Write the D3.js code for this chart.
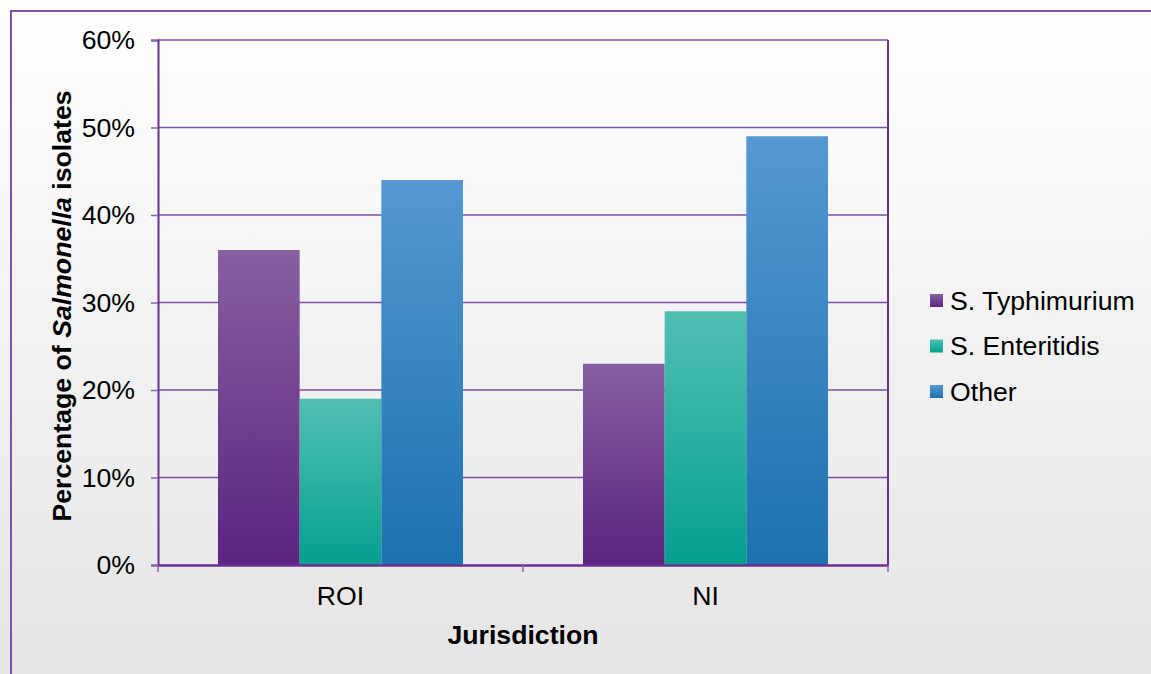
<!DOCTYPE html>
<html>
<head>
<meta charset="utf-8">
<script src="https://cdn.jsdelivr.net/npm/d3@7"></script>
<style>
  html, body { margin: 0; padding: 0; background: #fff; }
  svg { display: block; }
  text { font-family: Arial, "Liberation Sans", sans-serif; fill: #000; }
</style>
</head>
<body>
<svg id="chart" width="1151" height="674"></svg>
<script>
// Data
const jurisdictions = ["ROI", "NI"];
const seriesNames = ["S. Typhimurium", "S. Enteritidis", "Other"];
const typhimurium = [36, 23];
const enteritidis = [19, 29];
const other = [44, 49];
const yTicks = [0, 10, 20, 30, 40, 50, 60];

const seriesValues = [typhimurium, enteritidis, other];
const seriesColors = [
  { top: "#8660a1", bottom: "#5c2480" },
  { top: "#50bfb2", bottom: "#05a08f" },
  { top: "#5598d1", bottom: "#1c72b0" }
];

const W = 1151, H = 674;
const plot = { left: 158, top: 40, right: 888, bottom: 565 };
const FONT = "Arial, 'Liberation Sans', sans-serif";
const FS = 26.67;

const svg = d3.select("#chart");
const defs = svg.append("defs");

// Background gradient
const bg = defs.append("linearGradient").attr("id", "bg")
  .attr("x1", 0).attr("y1", 0).attr("x2", 0).attr("y2", 1);
bg.append("stop").attr("offset", "0%").attr("stop-color", "#ffffff");
bg.append("stop").attr("offset", "100%").attr("stop-color", "#e5e5e5");

seriesColors.forEach((c, i) => {
  const g = defs.append("linearGradient").attr("id", "fill" + i)
    .attr("x1", 0).attr("y1", 0).attr("x2", 0).attr("y2", 1);
  g.append("stop").attr("offset", "0%").attr("stop-color", c.top);
  g.append("stop").attr("offset", "100%").attr("stop-color", c.bottom);
});

svg.append("rect").attr("x", 0).attr("y", 0).attr("width", W).attr("height", H)
  .attr("fill", "url(#bg)");

// Chart frame
svg.append("path")
  .attr("d", `M11,${H + 5} L11,11 L${W + 5},11`)
  .attr("fill", "none").attr("stroke", "#7d52ad").attr("stroke-width", 2);

const x0 = d3.scaleBand().domain(jurisdictions)
  .range([plot.left, plot.right]).paddingInner(0).paddingOuter(0);
const groupPad = 60;
const x1 = d3.scaleBand().domain(d3.range(seriesNames.length))
  .range([0, x0.bandwidth() - 2 * groupPad]);
const y = d3.scaleLinear().domain([0, 60]).range([plot.bottom, plot.top]);

const axisColor = "#6a2f93";

// Gridlines
svg.append("g").selectAll("line").data(yTicks.filter(t => t > 0)).join("line")
  .attr("x1", plot.left).attr("x2", plot.right)
  .attr("y1", d => y(d)).attr("y2", d => y(d))
  .attr("stroke", "#7d4ea3").attr("stroke-width", 1.6);

// Right frame of plot area
svg.append("line")
  .attr("x1", plot.right).attr("x2", plot.right)
  .attr("y1", plot.top).attr("y2", plot.bottom)
  .attr("stroke", axisColor).attr("stroke-width", 2);

// Bars
const groups = svg.append("g").selectAll("g").data(jurisdictions).join("g")
  .attr("transform", d => `translate(${x0(d) + groupPad},0)`);
groups.selectAll("rect")
  .data((d, ji) => seriesValues.map((vals, si) => ({ si, v: vals[ji] })))
  .join("rect")
  .attr("x", d => x1(d.si))
  .attr("width", x1.bandwidth())
  .attr("y", d => y(d.v))
  .attr("height", d => y(0) - y(d.v))
  .attr("fill", d => `url(#fill${d.si})`);

// Y axis
const yAxis = svg.append("g").attr("transform", `translate(${plot.left},0)`)
  .call(d3.axisLeft(y).tickValues(yTicks).tickFormat(d => d + "%").tickSize(7).tickPadding(16));
yAxis.select(".domain").attr("stroke", axisColor).attr("stroke-width", 2);
yAxis.selectAll(".tick line").attr("stroke", "#8a62b0").attr("stroke-width", 1.5);
yAxis.selectAll(".tick text").attr("font-size", FS).attr("font-family", FONT).attr("fill", "#000");

// X axis
const xAxis = svg.append("g").attr("transform", `translate(0,${plot.bottom})`)
  .call(d3.axisBottom(x0).tickSize(0).tickPadding(21));
xAxis.select(".domain").attr("stroke", axisColor).attr("stroke-width", 2.5);
xAxis.selectAll(".tick text").attr("font-size", FS).attr("font-family", FONT).attr("fill", "#000");
// category divider ticks
const dividers = [plot.left, ...jurisdictions.map(j => x0(j) + x0.bandwidth())];
xAxis.append("g").selectAll("line").data(dividers).join("line")
  .attr("x1", d => d).attr("x2", d => d).attr("y1", 0).attr("y2", 7)
  .attr("stroke", "#8a62b0").attr("stroke-width", 1.5);

// Axis titles
svg.append("text")
  .attr("x", (plot.left + plot.right) / 2).attr("y", 644)
  .attr("text-anchor", "middle").attr("font-size", FS).attr("font-weight", "bold")
  .text("Jurisdiction");

const yTitle = svg.append("text")
  .attr("transform", "translate(71,306) rotate(-90)")
  .attr("text-anchor", "middle").attr("font-size", FS).attr("font-weight", "bold");
yTitle.append("tspan").text("Percentage of ");
yTitle.append("tspan").attr("font-style", "italic").text("Salmonella");
yTitle.append("tspan").text(" isolates");

// Legend
const legend = svg.append("g").attr("transform", "translate(930,300)");
const items = legend.selectAll("g").data(seriesNames).join("g")
  .attr("transform", (d, i) => `translate(0,${i * 45.5})`);
items.append("rect").attr("x", 0).attr("y", -6).attr("width", 13).attr("height", 13)
  .attr("fill", (d, i) => `url(#fill${i})`);
items.append("text").attr("x", 20).attr("y", 9.5).attr("font-size", FS).text(d => d);
</script>
</body>
</html>
